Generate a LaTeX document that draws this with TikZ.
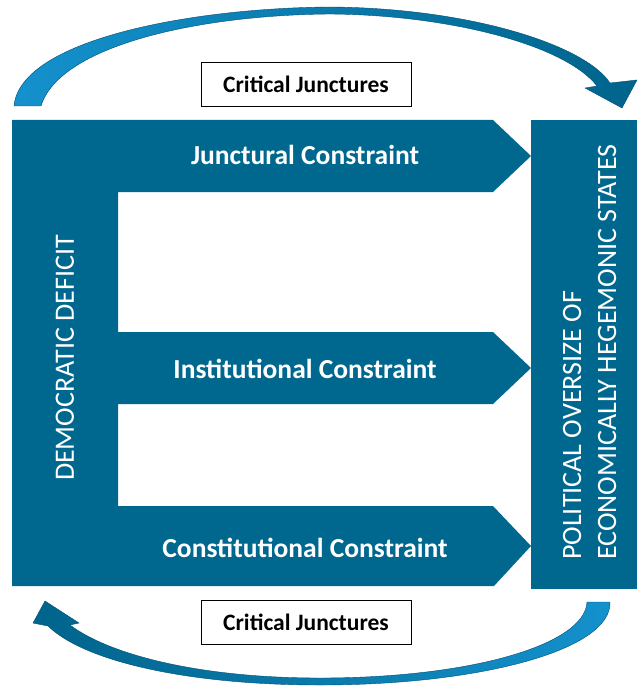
\documentclass[tikz,border=0pt]{standalone}
\usepackage{fontspec}
\setmainfont{Carlito}
\definecolor{mainblue}{RGB}{0,104,143}
\definecolor{arclight}{RGB}{20,145,205}
\definecolor{arcdark}{RGB}{0,100,140}
\definecolor{arcedge}{RGB}{0,80,115}
\begin{document}
\begin{tikzpicture}[x=1pt,y=-1pt,
  armlabel/.style={text=white,font=\fontsize{27.5}{31}\selectfont\bfseries,inner sep=0pt},
  sidelabel/.style={text=white,font=\fontsize{28}{35}\selectfont,inner sep=0pt,rotate=90},
  cjbox/.style={draw=black,line width=0.8pt,fill=white,minimum width=210pt,minimum height=44pt,font=\fontsize{23.5}{27}\selectfont\bfseries,inner sep=0pt}]
\useasboundingbox (0,0) rectangle (637,687);
% E shape with three arrows
\fill[mainblue] (12,120) -- (493,120) -- (531,156) -- (493,192) -- (118,192) -- (118,332) -- (493,332) -- (531,368) -- (493,404) -- (118,404) -- (118,506) -- (493,506) -- (531,546) -- (494,586) -- (12,586) -- cycle;
% right box
\fill[mainblue] (531,120) rectangle (637,589);
% top arc arrow
\shade[left color=arclight,right color=arcdark,draw=arcedge,line width=0.4pt]
  (14,106) .. controls (20,40) and (190,8) .. (330,7) .. controls (470,8) and (585,45) .. (610,83)
  -- (637,80) -- (622,108) -- (585,88) -- (597,86)
  .. controls (565,45) and (450,15) .. (330,14) .. controls (200,15) and (60,45) .. (41,106) -- cycle;
% bottom arc arrow
\shade[left color=arcdark,right color=arclight,draw=arcedge,line width=0.4pt]
  (610,602) .. controls (612,650) and (480,685) .. (320,685) .. controls (190,685) and (85,662) .. (48,626)
  -- (33,623) -- (45,601) -- (79,623) -- (70,625)
  .. controls (110,655) and (200,678) .. (320,678) .. controls (470,678) and (585,645) .. (587,602) -- cycle;
% labels
\node[armlabel] (junc) at (305,155) {Junctural Constraint};
\node[armlabel] (inst) at (305,369) {Institutional Constraint};
\node[armlabel] (cons) at (305,548) {Constitutional Constraint};
\node[sidelabel] (demo) at (65,358) {DEMOCRATIC DEFICIT};
\node[sidelabel,align=left,anchor=west] (poli) at (589.5,560) {POLITICAL OVERSIZE OF\\ECONOMICALLY HEGEMONIC STATES};
\node[cjbox] (cjtop) at (306,84) {Critical Junctures};
\node[cjbox] (cjbot) at (306,622) {Critical Junctures};
\end{tikzpicture}
\end{document}
